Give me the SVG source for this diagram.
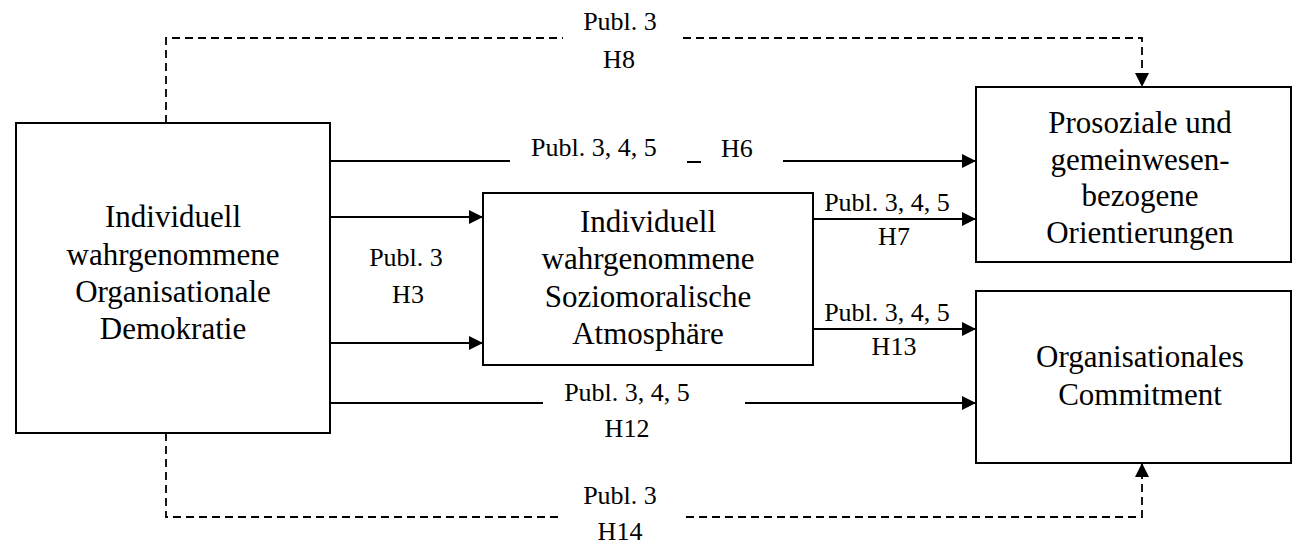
<svg xmlns="http://www.w3.org/2000/svg" width="1295" height="547" viewBox="0 0 1295 547">
<style>
.box{fill:#fff;stroke:#000;stroke-width:2}
.nt{font-family:"Liberation Serif","Times New Roman",serif;font-size:31px;fill:#000;text-anchor:middle}
.et{font-family:"Liberation Serif","Times New Roman",serif;font-size:26px;fill:#000}
.c{fill:none;stroke:#000;stroke-width:2}
.d{fill:none;stroke:#000;stroke-width:1.8;stroke-dasharray:8 5}
</style>
<defs>
<marker id="ah" viewBox="0 0 14 14" refX="14" refY="7" markerWidth="14" markerHeight="14" orient="auto" markerUnits="userSpaceOnUse">
<path d="M0,0 L14,7 L0,14 Z" fill="#000"/>
</marker>
</defs>
<rect width="1295" height="547" fill="#fff"/>

<g id="connectors">
<path class="d" d="M166,123 V38 H563"/>
<path class="d" d="M683,38 H1142 V87" marker-end="url(#ah)"/>
<path class="d" d="M166,433 V517 H563"/>
<path class="d" d="M686,517 H1142 V463" marker-end="url(#ah)"/>
<path class="c" d="M330,161 H510"/>
<path class="c" d="M687,162 H701"/>
<path class="c" d="M783,161 H976" marker-end="url(#ah)"/>
<path class="c" d="M330,217 H483" marker-end="url(#ah)"/>
<path class="c" d="M330,343 H483" marker-end="url(#ah)"/>
<path class="c" d="M813,219 H976" marker-end="url(#ah)"/>
<path class="c" d="M813,329 H976" marker-end="url(#ah)"/>
<path class="c" d="M330,403 H543"/>
<path class="c" d="M745,403 H976" marker-end="url(#ah)"/>
</g>

<g id="labels">
<text class="et" x="620" y="30" text-anchor="middle">Publ. 3</text>
<text class="et" x="619" y="68" text-anchor="middle">H8</text>
<text class="et" x="531" y="156">Publ. 3, 4, 5</text>
<text class="et" x="721" y="157">H6</text>
<text class="et" x="406" y="266" text-anchor="middle">Publ. 3</text>
<text class="et" x="408" y="303" text-anchor="middle">H3</text>
<text class="et" x="887" y="211" text-anchor="middle">Publ. 3, 4, 5</text>
<text class="et" x="894" y="245" text-anchor="middle">H7</text>
<text class="et" x="887" y="321" text-anchor="middle">Publ. 3, 4, 5</text>
<text class="et" x="894" y="355" text-anchor="middle">H13</text>
<text class="et" x="627" y="401" text-anchor="middle">Publ. 3, 4, 5</text>
<text class="et" x="627" y="437" text-anchor="middle">H12</text>
<text class="et" x="620" y="504" text-anchor="middle">Publ. 3</text>
<text class="et" x="620" y="540" text-anchor="middle">H14</text>
</g>

<g id="node-demokratie">
<rect class="box" x="16" y="123" width="314" height="310"/>
<text class="nt" x="173" y="227">Individuell</text>
<text class="nt" x="173" y="265">wahrgenommene</text>
<text class="nt" x="173" y="302">Organisationale</text>
<text class="nt" x="173" y="339">Demokratie</text>
</g>

<g id="node-atmosphaere">
<rect class="box" x="483" y="193" width="330" height="172"/>
<text class="nt" x="648" y="232">Individuell</text>
<text class="nt" x="648" y="269">wahrgenommene</text>
<text class="nt" x="648" y="307">Soziomoralische</text>
<text class="nt" x="648" y="344">Atmosphäre</text>
</g>

<g id="node-prosozial">
<rect class="box" x="976" y="87" width="315" height="175"/>
<text class="nt" x="1140" y="133">Prosoziale und</text>
<text class="nt" x="1140" y="170">gemeinwesen-</text>
<text class="nt" x="1140" y="206">bezogene</text>
<text class="nt" x="1140" y="243">Orientierungen</text>
</g>

<g id="node-commitment">
<rect class="box" x="976" y="291" width="315" height="172"/>
<text class="nt" x="1140" y="367">Organisationales</text>
<text class="nt" x="1140" y="405">Commitment</text>
</g>
</svg>
